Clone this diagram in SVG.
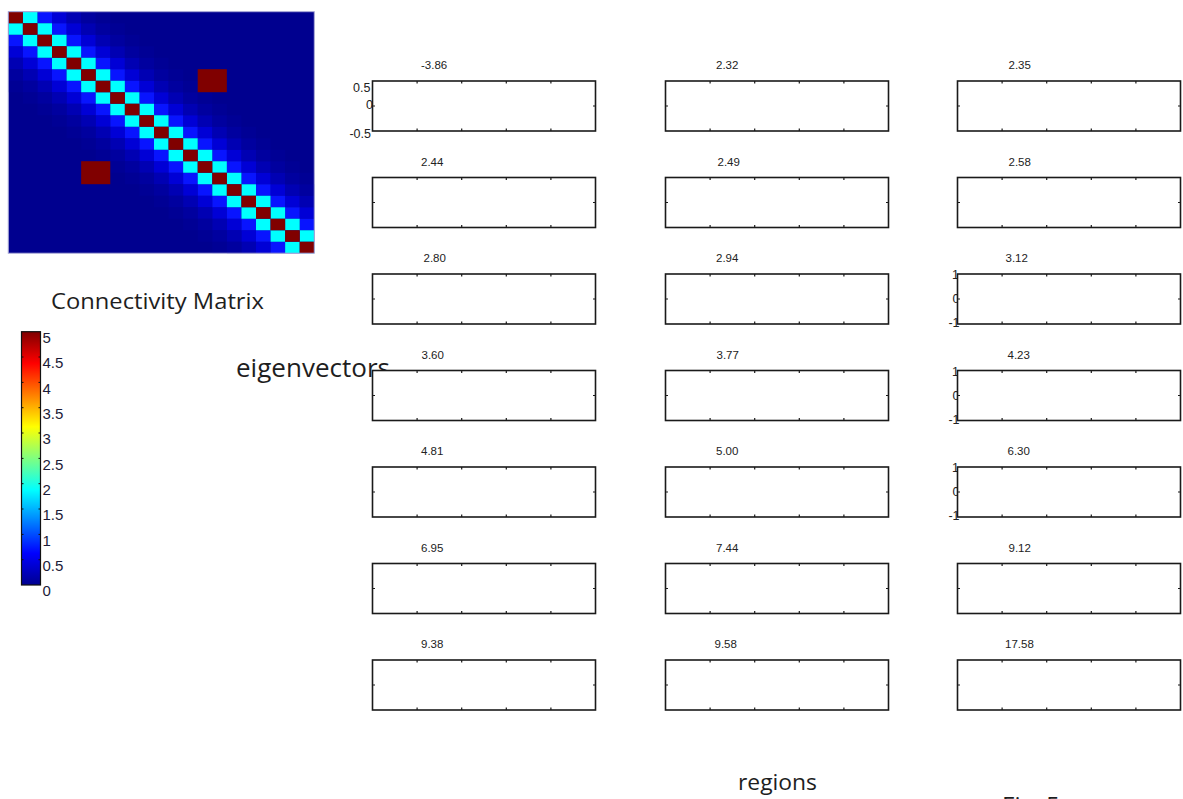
<svg xmlns="http://www.w3.org/2000/svg" xmlns:xlink="http://www.w3.org/1999/xlink" width="1183" height="799" viewBox="0 0 1183 799">
<style>
.t{font-family:"Liberation Sans",Arial,sans-serif;font-size:11.5px;fill:#222}
.yl{font-family:"Liberation Sans",Arial,sans-serif;font-size:12.5px;fill:#222;text-anchor:end}
.cb{font-family:"Liberation Sans",Arial,sans-serif;font-size:15px;fill:#1c1c38}
.big{font-family:"Open Sans","Noto Sans",sans-serif;fill:#1e1e1e}
.fr{fill:#fff;stroke:#1a1a1a;stroke-width:1.6}
.tk{fill:none;stroke:#1a1a1a;stroke-width:1.2}
</style>
<defs>
<clipPath id="mclip"><rect x="8.3" y="11.7" width="305.97" height="241.5"/></clipPath>
<path id="dg" d="M8.3 11.7h14.57v11.5h-14.57z m14.57 11.5h14.57v11.5h-14.57z m14.57 11.5h14.57v11.5h-14.57z m14.57 11.5h14.57v11.5h-14.57z m14.57 11.5h14.57v11.5h-14.57z m14.57 11.5h14.57v11.5h-14.57z m14.57 11.5h14.57v11.5h-14.57z m14.57 11.5h14.57v11.5h-14.57z m14.57 11.5h14.57v11.5h-14.57z m14.57 11.5h14.57v11.5h-14.57z m14.57 11.5h14.57v11.5h-14.57z m14.57 11.5h14.57v11.5h-14.57z m14.57 11.5h14.57v11.5h-14.57z m14.57 11.5h14.57v11.5h-14.57z m14.57 11.5h14.57v11.5h-14.57z m14.57 11.5h14.57v11.5h-14.57z m14.57 11.5h14.57v11.5h-14.57z m14.57 11.5h14.57v11.5h-14.57z m14.57 11.5h14.57v11.5h-14.57z m14.57 11.5h14.57v11.5h-14.57z m14.57 11.5h14.57v11.5h-14.57z"/>
<linearGradient id="jet" x1="0" y1="0" x2="0" y2="1">
<stop offset="0" stop-color="#800000"/>
<stop offset="0.125" stop-color="#ff0000"/>
<stop offset="0.375" stop-color="#ffff00"/>
<stop offset="0.625" stop-color="#00ffff"/>
<stop offset="0.875" stop-color="#0000ff"/>
<stop offset="1" stop-color="#00008f"/>
</linearGradient>
<g id="frame">
<rect class="fr" x="0" y="0" width="223" height="50"/>
<path class="tk" d="M44.6 0v2.5M89.2 0v2.5M133.8 0v2.5M178.4 0v2.5M44.6 50v-2.5M89.2 50v-2.5M133.8 50v-2.5M178.4 50v-2.5M223 25h-2.5M0 25h2.5"/>
</g>
</defs>
<rect width="1183" height="799" fill="#fff"/>

<g id="connectivity-matrix">
<g clip-path="url(#mclip)">
<rect x="8.3" y="11.7" width="305.97" height="241.5" fill="#00008f"/>
<use xlink:href="#dg" href="#dg" fill="#000095" transform="translate(87.42,0)"/>
<use xlink:href="#dg" href="#dg" fill="#000095" transform="translate(0,69)"/>
<use xlink:href="#dg" href="#dg" fill="#00009f" transform="translate(72.85,0)"/>
<use xlink:href="#dg" href="#dg" fill="#00009f" transform="translate(0,57.5)"/>
<use xlink:href="#dg" href="#dg" fill="#0000b3" transform="translate(58.28,0)"/>
<use xlink:href="#dg" href="#dg" fill="#0000b3" transform="translate(0,46)"/>
<use xlink:href="#dg" href="#dg" fill="#0000d6" transform="translate(43.71,0)"/>
<use xlink:href="#dg" href="#dg" fill="#0000d6" transform="translate(0,34.5)"/>
<use xlink:href="#dg" href="#dg" fill="#0814ff" transform="translate(29.14,0)"/>
<use xlink:href="#dg" href="#dg" fill="#0814ff" transform="translate(0,23)"/>
<use xlink:href="#dg" href="#dg" fill="#00ffff" transform="translate(14.57,0)"/>
<use xlink:href="#dg" href="#dg" fill="#00ffff" transform="translate(0,11.5)"/>
<use xlink:href="#dg" href="#dg" fill="#800000"/>
<rect x="197.71" y="69.2" width="29.14" height="23" fill="#800000"/>
<rect x="81.15" y="161.2" width="29.14" height="23" fill="#800000"/>
</g>
<rect x="8.3" y="11.7" width="305.97" height="241.5" fill="none" stroke="#9a9ad0" stroke-width="1"/>
</g>

<g id="colorbar">
<rect x="21.5" y="331.7" width="19" height="253.3" fill="url(#jet)" stroke="#111" stroke-width="1.2"/>
<path fill="none" stroke="#111" stroke-width="1" d="M40.5 357h-2M40.5 382.4h-2M40.5 407.7h-2M40.5 433h-2M40.5 458.4h-2M40.5 483.7h-2M40.5 509h-2M40.5 534.4h-2M40.5 559.7h-2M21.5 357h2M21.5 382.4h2M21.5 407.7h2M21.5 433h2M21.5 458.4h2M21.5 483.7h2M21.5 509h2M21.5 534.4h2M21.5 559.7h2"/>
<text class="cb" x="42.5" y="343">5</text>
<text class="cb" x="42.5" y="368.3">4.5</text>
<text class="cb" x="42.5" y="393.7">4</text>
<text class="cb" x="42.5" y="419">3.5</text>
<text class="cb" x="42.5" y="444.3">3</text>
<text class="cb" x="42.5" y="469.7">2.5</text>
<text class="cb" x="42.5" y="495">2</text>
<text class="cb" x="42.5" y="520.3">1.5</text>
<text class="cb" x="42.5" y="545.7">1</text>
<text class="cb" x="42.5" y="571">0.5</text>
<text class="cb" x="42.5" y="596.3">0</text>
</g>

<g id="labels">
<text class="big" x="51" y="309" font-size="21" textLength="213" lengthAdjust="spacingAndGlyphs">Connectivity Matrix</text>
<text class="big" x="236" y="377" font-size="25" textLength="154" lengthAdjust="spacingAndGlyphs">eigenvectors</text>
<text class="big" x="738" y="790" font-size="22" textLength="79" lengthAdjust="spacingAndGlyphs">regions</text>
<text class="big" x="1002" y="814" font-size="24">Fig. 5</text>
</g>

<g id="plots">
<g id="ev-r1-c1" transform="translate(372.5,81)">
<text class="yl" x="-2" y="10.5">0.5</text><text class="yl" x="0.5" y="28">0</text><text class="yl" x="-1.5" y="57">-0.5</text>
<use xlink:href="#frame" href="#frame"/><text class="t" x="48.5" y="-12">-3.86</text></g>
<g id="ev-r1-c2" transform="translate(665.5,81)"><use xlink:href="#frame" href="#frame"/><text class="t" x="50.5" y="-12">2.32</text></g>
<g id="ev-r1-c3" transform="translate(957.5,81)"><use xlink:href="#frame" href="#frame"/><text class="t" x="51" y="-12">2.35</text></g>

<g id="ev-r2-c1" transform="translate(372.5,177.5)"><use xlink:href="#frame" href="#frame"/><text class="t" x="48.5" y="-12">2.44</text></g>
<g id="ev-r2-c2" transform="translate(665.5,177.5)"><use xlink:href="#frame" href="#frame"/><text class="t" x="52" y="-12">2.49</text></g>
<g id="ev-r2-c3" transform="translate(957.5,177.5)"><use xlink:href="#frame" href="#frame"/><text class="t" x="51" y="-12">2.58</text></g>

<g id="ev-r3-c1" transform="translate(372.5,274)"><use xlink:href="#frame" href="#frame"/><text class="t" x="51" y="-12">2.80</text></g>
<g id="ev-r3-c2" transform="translate(665.5,274)"><use xlink:href="#frame" href="#frame"/><text class="t" x="50.5" y="-12">2.94</text></g>
<g id="ev-r3-c3" transform="translate(957.5,274)">
<text class="yl" x="1.5" y="5">1</text><text class="yl" x="2" y="29">0</text><text class="yl" x="2" y="53">-1</text>
<use xlink:href="#frame" href="#frame"/><text class="t" x="48" y="-12">3.12</text></g>

<g id="ev-r4-c1" transform="translate(372.5,370.5)"><use xlink:href="#frame" href="#frame"/><text class="t" x="49" y="-12">3.60</text></g>
<g id="ev-r4-c2" transform="translate(665.5,370.5)"><use xlink:href="#frame" href="#frame"/><text class="t" x="51" y="-12">3.77</text></g>
<g id="ev-r4-c3" transform="translate(957.5,370.5)">
<text class="yl" x="1.5" y="5">1</text><text class="yl" x="2" y="29">0</text><text class="yl" x="2" y="53">-1</text>
<use xlink:href="#frame" href="#frame"/><text class="t" x="50" y="-12">4.23</text></g>

<g id="ev-r5-c1" transform="translate(372.5,467)"><use xlink:href="#frame" href="#frame"/><text class="t" x="48.5" y="-12">4.81</text></g>
<g id="ev-r5-c2" transform="translate(665.5,467)"><use xlink:href="#frame" href="#frame"/><text class="t" x="50.5" y="-12">5.00</text></g>
<g id="ev-r5-c3" transform="translate(957.5,467)">
<text class="yl" x="1.5" y="5">1</text><text class="yl" x="2" y="29">0</text><text class="yl" x="2" y="53">-1</text>
<use xlink:href="#frame" href="#frame"/><text class="t" x="50" y="-12">6.30</text></g>

<g id="ev-r6-c1" transform="translate(372.5,563.5)"><use xlink:href="#frame" href="#frame"/><text class="t" x="48.5" y="-12">6.95</text></g>
<g id="ev-r6-c2" transform="translate(665.5,563.5)"><use xlink:href="#frame" href="#frame"/><text class="t" x="50.5" y="-12">7.44</text></g>
<g id="ev-r6-c3" transform="translate(957.5,563.5)"><use xlink:href="#frame" href="#frame"/><text class="t" x="51" y="-12">9.12</text></g>

<g id="ev-r7-c1" transform="translate(372.5,660)"><use xlink:href="#frame" href="#frame"/><text class="t" x="48.5" y="-12">9.38</text></g>
<g id="ev-r7-c2" transform="translate(665.5,660)"><use xlink:href="#frame" href="#frame"/><text class="t" x="49" y="-12">9.58</text></g>
<g id="ev-r7-c3" transform="translate(957.5,660)"><use xlink:href="#frame" href="#frame"/><text class="t" x="47.5" y="-12">17.58</text></g>
</g>

<g id="connectors"></g>
</svg>
